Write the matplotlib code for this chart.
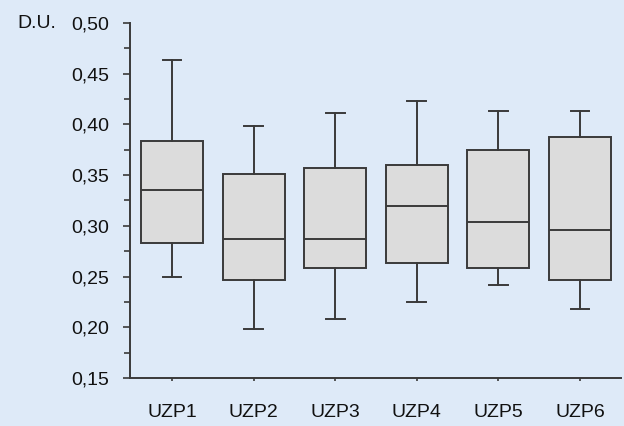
import matplotlib
matplotlib.use("Agg")
import matplotlib.pyplot as plt
from matplotlib.ticker import MultipleLocator, FuncFormatter

categories = ["UZP1", "UZP2", "UZP3", "UZP4", "UZP5", "UZP6"]
whisker_low = [0.250, 0.198, 0.208, 0.225, 0.242, 0.218]
q1 = [0.283, 0.247, 0.258, 0.263, 0.258, 0.247]
median = [0.335, 0.287, 0.287, 0.320, 0.304, 0.296]
q3 = [0.384, 0.351, 0.357, 0.360, 0.375, 0.388]
whisker_high = [0.464, 0.398, 0.411, 0.423, 0.413, 0.413]
y_ticks = [0.15, 0.20, 0.25, 0.30, 0.35, 0.40, 0.45, 0.50]

plt.rcParams['font.family'] = ['Liberation Sans', 'DejaVu Sans']
bg = "#deeaf8"
line_c = "#3a3a3a"
fs = 14

fig = plt.figure(figsize=(6.24, 4.26), dpi=100, facecolor=bg)
ax = fig.add_axes([0.2083, 0.1127, 0.7867, 0.8333])
ax.set_facecolor(bg)

stats = []
for i, c in enumerate(categories):
    stats.append(dict(label=c, whislo=whisker_low[i], q1=q1[i], med=median[i],
                      q3=q3[i], whishi=whisker_high[i], fliers=[]))

ax.bxp(stats, positions=list(range(1, len(categories) + 1)), widths=0.76,
       showfliers=False, patch_artist=True, capwidths=0.23,
       boxprops=dict(facecolor="#dcdcdc", edgecolor=line_c, linewidth=1.4),
       medianprops=dict(color=line_c, linewidth=1.4),
       whiskerprops=dict(color=line_c, linewidth=1.4),
       capprops=dict(color=line_c, linewidth=1.4))

ax.set_xlim(0.485, 6.5)
ax.set_ylim(0.15, 0.50)
ax.set_yticks(y_ticks)
ax.yaxis.set_minor_locator(MultipleLocator(0.025))
ax.yaxis.set_major_formatter(FuncFormatter(lambda v, p: f"{v:.2f}".replace(".", ",")))
ax.set_xticks(range(1, len(categories) + 1))
ax.set_xticklabels(categories)

for s in ["top", "right"]:
    ax.spines[s].set_visible(False)
for s in ["left", "bottom"]:
    ax.spines[s].set_color(line_c)
    ax.spines[s].set_linewidth(1.4)

ax.tick_params(axis="y", which="major", length=5, width=1.2, color=line_c,
               labelsize=fs, pad=10, labelcolor="#111111")
ax.tick_params(axis="y", which="minor", length=4, width=1.2, color=line_c)
ax.tick_params(axis="x", which="major", length=2.5, width=1.2, color=line_c,
               labelsize=fs, pad=16, labelcolor="#111111")

fig.text(17 / 624, 1 - 23 / 426, "D.U.", fontsize=fs, color="#111111",
         ha="left", va="center")

fig.savefig("out.png", dpi=100, facecolor=bg)
